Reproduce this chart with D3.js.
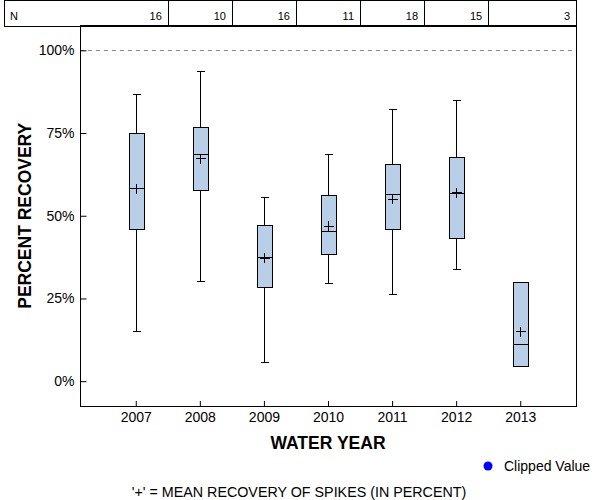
<!DOCTYPE html>
<html>
<head>
<meta charset="utf-8">
<script src="https://cdn.jsdelivr.net/npm/d3@7"></script>
<style>
  body { margin: 0; background: #fff; }
  svg { display: block; font-family: "Liberation Sans", Arial, sans-serif; }
</style>
</head>
<body>
<svg id="chart" width="600" height="500"></svg>
<script>
// ---- data ----
const years = ["2007", "2008", "2009", "2010", "2011", "2012", "2013"];
const nCounts = [16, 10, 16, 11, 18, 15, 3];
const whiskLow = [15.0, 30.1, 5.6, 29.5, 26.2, 33.7, 4.5];
const q1 = [45.8, 57.6, 28.3, 38.3, 45.8, 43.1, 4.5];
const median = [58.2, 68.5, 37.3, 45.2, 56.4, 56.7, 11.1];
const q3 = [74.8, 76.6, 47.0, 56.0, 65.6, 67.5, 29.8];
const whiskHigh = [86.6, 93.6, 55.5, 68.4, 82.1, 84.8, 29.8];
const means = [58.2, 67.2, 37.1, 46.8, 55.0, 57.0, 14.9];
const yTicks = [0, 25, 50, 75, 100];

const svg = d3.select("#chart");
const L = 80, R = 576, T = 25.5, B = 406;

const x = d3.scalePoint().domain(years).range([L, R]).padding(0.87);
const y = d3.scaleLinear().domain([-7.5, 107.5]).range([B, T]);

// N table
const tbl = svg.append("g").attr("shape-rendering", "crispEdges");
tbl.append("rect").attr("x", 4.5).attr("y", 0.5).attr("width", R - 4.5).attr("height", T)
  .attr("fill", "none").attr("stroke", "#000");
const step = x.step();
years.forEach((yr, i) => {
  const right = i < years.length - 1 ? x(yr) + step / 2 : R;
  if (i < years.length - 1) {
    tbl.append("line").attr("x1", right + 0.5).attr("x2", right + 0.5).attr("y1", 0.5).attr("y2", T)
      .attr("stroke", "#000");
  }
  svg.append("text").attr("x", right - 6).attr("y", 20).attr("text-anchor", "end")
    .attr("font-size", 11).text(nCounts[i]);
});
svg.append("text").attr("x", 10).attr("y", 20).attr("font-size", 11).text("N");

// reference line at 100%
svg.append("line").attr("x1", L).attr("x2", R - 4).attr("y1", Math.round(y(100)) + 0.5).attr("y2", Math.round(y(100)) + 0.5)
  .attr("stroke", "#888").attr("stroke-dasharray", "4,4");

// plot frame
svg.append("rect").attr("x", L + 0.5).attr("y", T).attr("width", R - L).attr("height", B - T)
  .attr("fill", "none").attr("stroke", "#000").attr("shape-rendering", "crispEdges");

// axes
const yAxis = d3.axisLeft(y).tickValues(yTicks).tickSize(-6).tickPadding(6).tickFormat(d => d + "%");
const gy = svg.append("g").attr("transform", `translate(${L + 0.5},0)`).call(yAxis);
gy.select(".domain").remove();
gy.selectAll("text").attr("font-size", 14).attr("font-family", "Liberation Sans, Arial, sans-serif").attr("fill", "#000");
gy.selectAll("line").attr("stroke", "#000");

const xAxis = d3.axisBottom(x).tickSize(-5).tickPadding(6);
const gx = svg.append("g").attr("transform", `translate(0,${B})`).call(xAxis);
gx.select(".domain").remove();
gx.selectAll("text").attr("font-size", 14).attr("font-family", "Liberation Sans, Arial, sans-serif").attr("fill", "#000");
gx.selectAll("line").attr("stroke", "#000");

// boxes
const bw = 15, cw = 8;
const g = svg.append("g").attr("shape-rendering", "crispEdges");
years.forEach((yr, i) => {
  const cx = Math.round(x(yr)) + 0.5;
  if (whiskHigh[i] > q3[i]) {
    g.append("line").attr("x1", cx).attr("x2", cx).attr("y1", y(whiskHigh[i])).attr("y2", y(q3[i])).attr("stroke", "#000");
    g.append("line").attr("x1", cx - cw / 2).attr("x2", cx + cw / 2).attr("y1", y(whiskHigh[i])).attr("y2", y(whiskHigh[i])).attr("stroke", "#000");
  }
  if (whiskLow[i] < q1[i]) {
    g.append("line").attr("x1", cx).attr("x2", cx).attr("y1", y(q1[i])).attr("y2", y(whiskLow[i])).attr("stroke", "#000");
    g.append("line").attr("x1", cx - cw / 2).attr("x2", cx + cw / 2).attr("y1", y(whiskLow[i])).attr("y2", y(whiskLow[i])).attr("stroke", "#000");
  }
  g.append("rect").attr("x", cx - bw / 2).attr("y", y(q3[i])).attr("width", bw).attr("height", y(q1[i]) - y(q3[i]))
    .attr("fill", "#b9cfe7").attr("stroke", "#000");
  g.append("line").attr("x1", cx - bw / 2).attr("x2", cx + bw / 2).attr("y1", y(median[i])).attr("y2", y(median[i])).attr("stroke", "#000");
  // mean plus
  g.append("line").attr("x1", cx - 5).attr("x2", cx + 5).attr("y1", y(means[i])).attr("y2", y(means[i])).attr("stroke", "#000");
  g.append("line").attr("x1", cx).attr("x2", cx).attr("y1", y(means[i]) - 5).attr("y2", y(means[i]) + 5).attr("stroke", "#000");
});

// axis titles
svg.append("text").attr("x", (L + R) / 2).attr("y", 449).attr("text-anchor", "middle")
  .attr("font-size", 17.5).attr("font-weight", "bold").text("WATER YEAR");
svg.append("text").attr("transform", `translate(31,${(T + B) / 2}) rotate(-90)`).attr("text-anchor", "middle")
  .attr("font-size", 17.5).attr("font-weight", "bold").text("PERCENT RECOVERY");

// legend
svg.append("circle").attr("cx", 488).attr("cy", 466).attr("r", 4.5).attr("fill", "#0000ff");
svg.append("text").attr("x", 504).attr("y", 471).attr("font-size", 14).text("Clipped Value");

// footnote
svg.append("text").attr("x", 299).attr("y", 497).attr("text-anchor", "middle")
  .attr("font-size", 14.3).text("'+' = MEAN RECOVERY OF SPIKES (IN PERCENT)");
</script>
</body>
</html>
